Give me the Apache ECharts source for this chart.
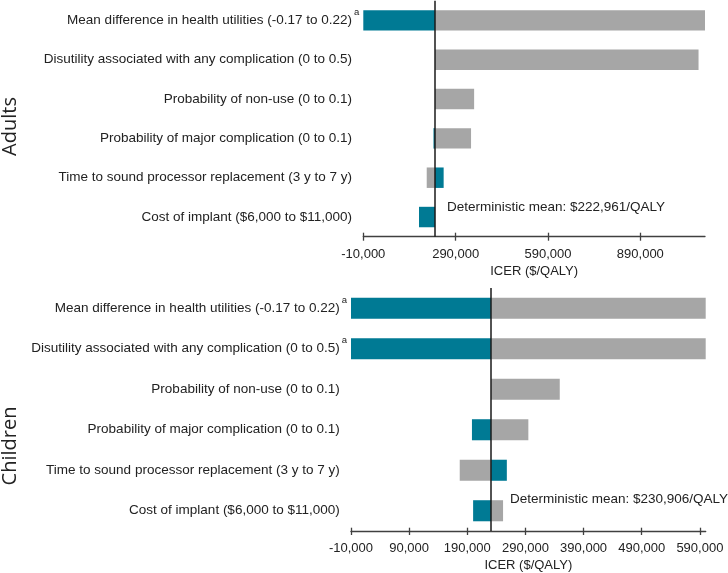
<!DOCTYPE html>
<html>
<head>
<meta charset="utf-8">
<script src="https://cdn.jsdelivr.net/npm/echarts@6/dist/echarts.min.js"></script>
<style>html,body{margin:0;padding:0;background:#fff}#c{width:728px;height:573px}</style>
</head>
<body>
<div id="c"></div>
<script>
const categories = [
  'Mean difference in health utilities (-0.17 to 0.22)',
  'Disutility associated with any complication (0 to 0.5)',
  'Probability of non-use (0 to 0.1)',
  'Probability of major complication (0 to 0.1)',
  'Time to sound processor replacement (3 y to 7 y)',
  'Cost of implant ($6,000 to $11,000)'
];
const adultsSup = [true, false, false, false, false, false];
const childrenSup = [true, true, false, false, false, false];

const adultsBase = 222961;
const adultsTeal = [-10000, null, null, 218000, 251000, 171000];
const adultsGray = [1100000, 1079000, 350000, 340000, 196000, 223500];
const adultsTicks = [-10000, 290000, 590000, 890000];

const childrenBase = 230906;
const childrenTeal = [-10000, -10000, null, 198000, 258000, 200000];
const childrenGray = [600000, 600000, 349000, 295000, 177000, 251500];
const childrenTicks = [-10000, 90000, 190000, 290000, 390000, 490000, 590000];

const TEAL = '#007a94', GRAY = '#a6a6a6';
const FONT = '"Liberation Sans", Arial, sans-serif';

function fmt(v){ return v.toLocaleString('en-US'); }

function barSeries(values, base, color, xIdx, yIdx, withLine){
  const data = [];
  values.forEach((v, i) => { if (v !== null) data.push([v, i]); });
  const s = {
    type: 'custom',
    xAxisIndex: xIdx, yAxisIndex: yIdx,
    encode: {x: 0, y: 1},
    data: data,
    silent: true,
    renderItem: function(params, api){
      const v = api.value(0), c = api.value(1);
      const p0 = api.coord([base, c]);
      const p1 = api.coord([v, c]);
      const h = api.size([0, 1])[1] * 0.52;
      return {type: 'rect', shape: {x: Math.min(p0[0], p1[0]), y: p0[1] - h/2, width: Math.abs(p1[0] - p0[0]), height: h}, style: {fill: color}};
    },
    z: 2
  };
  if (withLine) {
    s.markLine = {silent: true, symbol: 'none', label: {show: false},
      lineStyle: {color: '#1a1a1a', width: 1.5, type: 'solid'},
      data: [{xAxis: base}], z: 5};
  }
  return s;
}

function catLabel(sup){
  return function(value, idx){
    return '{t|' + value + '}' + (sup[idx] ? '{s|a}' : '{h|a}');
  };
}

function xAxes(gridIdx, min, max, ticks, height){
  const common = {type: 'value', gridIndex: gridIdx, min: min, max: max, splitLine: {show: false}};
  return [
    Object.assign({}, common, {
      position: 'bottom',
      name: 'ICER ($/QALY)', nameLocation: 'middle', nameGap: 28,
      nameTextStyle: {fontFamily: FONT, fontSize: 13, color: '#222'},
      axisLine: {show: true, onZero: false, lineStyle: {color: '#404040', width: 1.3}},
      axisTick: {show: true, length: 4, customValues: ticks, lineStyle: {color: '#404040', width: 1.3}},
      axisLabel: {customValues: ticks, formatter: fmt, fontFamily: FONT, fontSize: 13, color: '#222', margin: 11, showMinLabel: true, showMaxLabel: true}
    }),
    Object.assign({}, common, {
      position: 'top', offset: -height,
      axisLine: {show: false},
      axisTick: {show: true, length: 4, customValues: ticks, lineStyle: {color: '#404040', width: 1.3}},
      axisLabel: {show: false}
    })
  ];
}

function yAxes(gridIdx, sup){
  return {
    type: 'category', gridIndex: gridIdx, data: categories, inverse: true,
    axisLine: {show: false}, axisTick: {show: false},
    axisLabel: {margin: 4, formatter: catLabel(sup),
      rich: {
        t: {fontFamily: FONT, fontSize: 13.5, color: '#222'},
        s: {fontFamily: FONT, fontSize: 9.5, color: '#222', verticalAlign: 'bottom', padding: [0, 0, 16, 2]},
        h: {fontFamily: FONT, fontSize: 9.5, color: 'rgba(0,0,0,0)', verticalAlign: 'bottom', padding: [0, 0, 16, 2]}
      }}
  };
}

const chart = echarts.init(document.getElementById('c'), null, {renderer: 'canvas'});
const g0h = 236, g1h = 243.7;
const xa0 = xAxes(0, -10000, 1100000, adultsTicks, g0h);
const xa1 = xAxes(1, -10000, 600000, childrenTicks, g1h);
chart.setOption({
  animation: false,
  grid: [
    {left: 363.3, right: 23, top: 0.7, height: g0h},
    {left: 351, right: 22.3, top: 288, height: g1h}
  ],
  xAxis: [xa0[0], xa0[1], xa1[0], xa1[1]],
  yAxis: [yAxes(0, adultsSup), yAxes(1, childrenSup)],
  series: [
    barSeries(adultsGray, adultsBase, GRAY, 0, 0, false),
    barSeries(adultsTeal, adultsBase, TEAL, 0, 0, true),
    barSeries(childrenGray, childrenBase, GRAY, 2, 1, false),
    barSeries(childrenTeal, childrenBase, TEAL, 2, 1, true)
  ],
  graphic: [
    {type: 'text', left: 447, top: 200, style: {text: 'Deterministic mean: $' + fmt(adultsBase) + '/QALY', font: '13.5px ' + FONT, fill: '#222'}},
    {type: 'text', left: 510, top: 492, style: {text: 'Deterministic mean: $' + fmt(childrenBase) + '/QALY', font: '13.5px ' + FONT, fill: '#222'}},
    {type: 'text', x: 10, y: 126.5, rotation: Math.PI/2, style: {text: 'Adults', font: '20px "Open Sans", sans-serif', fill: '#222', align: 'center', verticalAlign: 'middle'}},
    {type: 'text', x: 10, y: 446, rotation: Math.PI/2, style: {text: 'Children', font: '20px "Open Sans", sans-serif', fill: '#222', align: 'center', verticalAlign: 'middle'}}
  ]
});
</script>
</body>
</html>
